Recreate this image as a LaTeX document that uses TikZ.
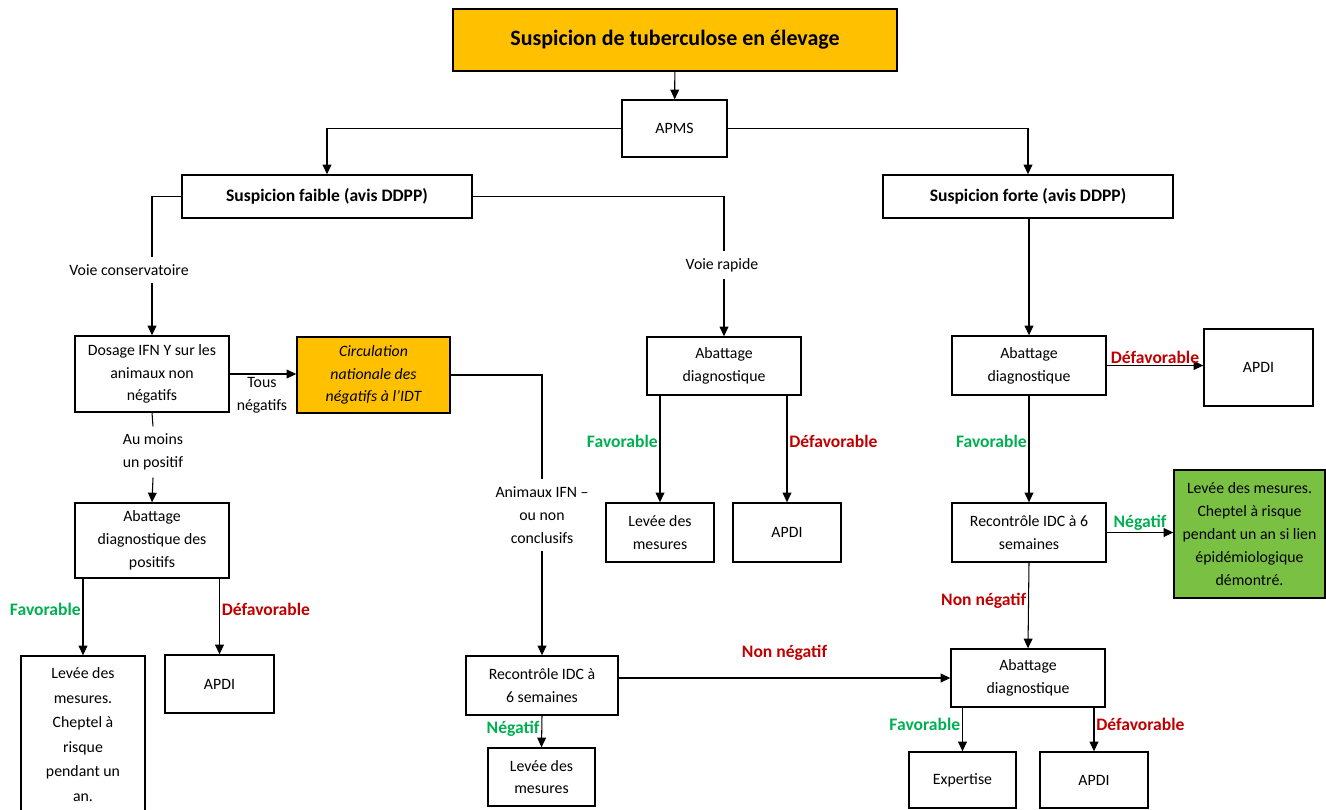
\documentclass[tikz,border=0pt]{standalone}
\usepackage{fontspec}
\setmainfont{Carlito}
\usepackage{xcolor}
\usetikzlibrary{arrows.meta}

\definecolor{orangeT}{HTML}{FFC000}
\definecolor{vertB}{RGB}{122,193,67}
\definecolor{vertT}{HTML}{00B050}
\definecolor{rougeT}{HTML}{C00000}
\newcommand{\upx}{0.2mm}

\tikzset{
	taille/.style 2 args={minimum width=#1*\upx, minimum height=#2*\upx},
	boite/.style={draw, line width=0.8pt, align=center, inner sep=2pt,
		font=\fontsize{9}{13}\selectfont},
	txt/.style={align=center, inner sep=4pt, font=\fontsize{9}{13}\selectfont},
	fav/.style={text=vertT, inner sep=1pt, font=\bfseries\fontsize{10}{13}\selectfont},
	defav/.style={text=rougeT, inner sep=1pt, font=\bfseries\fontsize{10}{13}\selectfont},
}

\begin{document}
\begin{tikzpicture}[x=0.02cm, y=-0.02cm, line width=0.6pt,
	>={Triangle[length=5.5pt,width=5pt]}]
		\useasboundingbox (0,0) rectangle (1326,809);
		%
		\node[boite, taille={444}{62}, fill=orangeT, font=\bfseries\fontsize{12.5}{15}\selectfont] (Titre) at (675,40) {Suspicion de tuberculose en élevage};
		\node[boite, taille={105}{57}] (APMS) at (674.5,128.5) {APMS};
		\node[boite, taille={290}{43}, font=\bfseries\fontsize{10}{13}\selectfont] (Faible) at (327,196.5) {Suspicion faible (avis DDPP)};
		\node[boite, taille={290}{43}, font=\bfseries\fontsize{10}{13}\selectfont] (Forte) at (1028,196.5) {Suspicion forte (avis DDPP)};
		% voie conservatoire
		\node[boite, taille={154}{76}] (Dosage) at (152,374) {Dosage IFN Y sur les\\animaux non\\négatifs};
		\node[boite, taille={153}{76}, fill=orangeT, font=\itshape\fontsize{9}{13}\selectfont] (Circ) at (373.5,375) {Circulation\\nationale des\\négatifs à l’IDT};
		\node[boite, taille={154}{75}] (AbPos) at (152,540.5) {Abattage\\diagnostique des\\positifs};
		\node[boite, taille={124}{157}, font=\fontsize{9}{14}\selectfont] (LeveeA) at (83,734.5) {Levée des\\mesures.\\Cheptel à\\risque\\pendant un\\an.};
		\node[boite, taille={109}{58}] (ApdiA) at (219.5,684) {APDI};
		\node[boite, taille={152}{59}] (RecA) at (542,685.5) {Recontrôle IDC à\\6 semaines};
		\node[boite, taille={107}{58}] (LeveeC) at (541.5,777) {Levée des\\mesures};
		% voie rapide
		\node[boite, taille={154}{58}] (AbRap) at (724,366) {Abattage\\diagnostique};
		\node[boite, taille={108}{59}] (LeveeB) at (660,532.5) {Levée des\\mesures};
		\node[boite, taille={108}{59}] (ApdiB) at (787,532.5) {APDI};
		% suspicion forte
		\node[boite, taille={154}{59}] (AbFor) at (1029,365.5) {Abattage\\diagnostique};
		\node[boite, taille={109}{77}] (ApdiC) at (1258.5,367.5) {APDI};
		\node[boite, taille={154}{59}] (RecB) at (1029,532.5) {Recontrôle IDC à 6\\semaines};
		\node[boite, taille={151}{128}, fill=vertB] (Vert) at (1249.5,534) {Levée des mesures.\\Cheptel à risque\\pendant un an si lien\\épidémiologique\\démontré.};
		\node[boite, taille={154}{58}] (AbFin) at (1028,678) {Abattage\\diagnostique};
		\node[boite, taille={107}{56}] (Expert) at (962.5,780) {Expertise};
		\node[boite, taille={108}{56}] (ApdiD) at (1094,780) {APDI};
		% textes sur les traits
		\node[txt] (VoieCons) at (129,270) {Voie conservatoire};
		\node[txt] (VoieRap) at (722,265) {Voie rapide};
		\node[txt] (TousNeg) at (262,395) {Tous\\négatifs};
		\node[txt] (AuMoins) at (153,452) {Au moins\\un positif};
		\node[txt] (Animaux) at (542,515) {Animaux IFN –\\ou non\\conclusifs};
		%
		% haut
		\path[->] (Titre) edge (APMS);
		\draw[->] (APMS.west) -| (Faible.north);
		\draw[->] (APMS.east) -| (Forte.north);
		\draw (Faible.west) -| (Dosage.north |- VoieCons.north);
		\draw[->] (Dosage.north |- VoieCons.south) -- (Dosage.north);
		\draw (Faible.east) -| (AbRap.north |- VoieRap.north);
		\draw[->] (AbRap.north |- VoieRap.south) -- (AbRap.north);
		\draw[->] (AbFor.north |- Forte.south) -- (AbFor.north);
		% gauche
		\draw[->] (Dosage.east) -- (Circ.west |- Dosage.east);
		\draw (Dosage.south) -- (AuMoins.north);
		\draw[->] (AuMoins.south) -- (AbPos.north);
		\draw[->] (LeveeA.north |- AbPos.south) -- node[fav, left, pos=0.4] (FavA) {Favorable} (LeveeA.north);
		\draw[->] (ApdiA.north |- AbPos.south) -- node[defav, right, pos=0.4] (DefA) {Défavorable} (ApdiA.north);
		\draw (Circ.east) -| (Animaux.north);
		\draw[->] (Animaux.south) -- (RecA.north);
		\draw[->] (RecA.south) -- node[fav, left, pos=0.4] (NegA) {Négatif} (LeveeC.north);
		\draw[->] (RecA.east |- AbFin.west) -- node[defav, above=3mm] (NonNegA) {Non négatif} (AbFin.west);
		% milieu
		\draw[->] (LeveeB.north |- AbRap.south) -- node[fav, left, pos=0.43] (FavB) {Favorable} (LeveeB.north);
		\draw[->] (ApdiB.north |- AbRap.south) -- node[defav, right, pos=0.43] (DefB) {Défavorable} (ApdiB.north);
		% droite
		\draw[->] (AbFor.east) -- node[defav, above] (DefC) {Défavorable} (ApdiC.west |- AbFor.east);
		\draw[->] (AbFor.south) -- node[fav, left, pos=0.43] (FavC) {Favorable} (RecB.north);
		\draw[->] (RecB.east) -- node[fav, above] (NegB) {Négatif} (Vert.west |- RecB.east);
		\draw[->] (RecB.south) -- node[defav, left, pos=0.44] (NonNegB) {Non négatif} (AbFin.north);
		\draw[->] (Expert.north |- AbFin.south) -- node[fav, left, pos=0.38] (FavD) {Favorable} (Expert.north);
		\draw[->] (ApdiD.north |- AbFin.south) -- node[defav, right, pos=0.38] (DefD) {Défavorable} (ApdiD.north);
\end{tikzpicture}
\end{document}
